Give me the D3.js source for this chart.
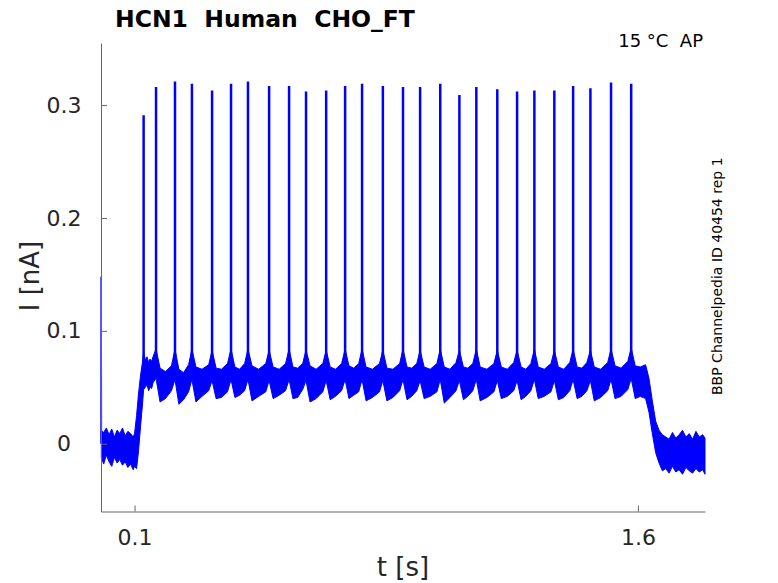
<!DOCTYPE html>
<html>
<head>
<meta charset="utf-8">
<script src="https://cdn.jsdelivr.net/npm/d3@7"></script>
<style>
    body { margin: 0; background: #fff; }
    svg { display: block; font-family: "DejaVu Sans", sans-serif; }
    text { white-space: pre; }
</style>
</head>
<body>
<svg width="778" height="583"></svg>
<script>
// spike train (time in s, peak current in nA)
var spikeTimes = [0.127, 0.164, 0.2205, 0.271, 0.331, 0.3875, 0.438, 0.501, 0.5605, 0.611,
    0.671, 0.7275, 0.778, 0.840, 0.900, 0.951, 1.011, 1.068, 1.1185, 1.181,
    1.240, 1.2915, 1.351, 1.407, 1.4585, 1.520, 1.580];
var spikePeaks = [0.291, 0.316, 0.321, 0.319, 0.313, 0.319, 0.321, 0.317, 0.317, 0.312,
    0.313, 0.317, 0.319, 0.317, 0.316, 0.316, 0.319, 0.309, 0.316, 0.314,
    0.312, 0.313, 0.313, 0.317, 0.315, 0.320, 0.319];

// noise band before the step
var preT = [0.001, 0.008, 0.016, 0.024, 0.032, 0.040, 0.048, 0.056, 0.064, 0.072, 0.080, 0.088, 0.096];
var preHi = [0.012, 0.010, 0.014, 0.008, 0.013, 0.006, 0.012, 0.009, 0.014, 0.007, 0.011, 0.009, 0.006];
var preLo = [-0.012, -0.018, -0.010, -0.016, -0.020, -0.012, -0.017, -0.014, -0.019, -0.016, -0.021, -0.018, -0.023];

// noise band during the step
var trainT = [0.100, 0.106, 0.112, 0.118, 0.124, 0.127, 0.132, 0.137, 0.142, 0.146, 0.151, 0.155,
    0.164, 0.176, 0.192, 0.210, 0.2205, 0.232, 0.246, 0.261, 0.271, 0.283, 0.301, 0.321,
    0.331, 0.343, 0.359, 0.377, 0.3875, 0.399, 0.413, 0.428, 0.438, 0.450, 0.470, 0.491,
    0.501, 0.513, 0.531, 0.550, 0.5605, 0.572, 0.586, 0.601, 0.611, 0.623, 0.641, 0.661,
    0.671, 0.683, 0.699, 0.717, 0.7275, 0.739, 0.753, 0.768, 0.778, 0.790, 0.809, 0.830,
    0.840, 0.852, 0.870, 0.890, 0.900, 0.912, 0.926, 0.941, 0.951, 0.963, 0.981, 1.001,
    1.011, 1.023, 1.040, 1.058, 1.068, 1.080, 1.093, 1.108, 1.1185, 1.130, 1.150, 1.171,
    1.181, 1.193, 1.211, 1.230, 1.240, 1.252, 1.266, 1.281, 1.2915, 1.303, 1.321, 1.341,
    1.351, 1.363, 1.379, 1.397, 1.407, 1.419, 1.433, 1.448, 1.4585, 1.470, 1.489, 1.510,
    1.520, 1.532, 1.550, 1.570, 1.580, 1.592, 1.607, 1.623, 1.633, 1.643, 1.653, 1.663, 1.673];
var trainHi = [0.009, 0.025, 0.045, 0.061, 0.073, 0.082, 0.074, 0.077, 0.072, 0.075, 0.073, 0.077,
    0.084, 0.067, 0.064, 0.069, 0.084, 0.066, 0.063, 0.070, 0.084, 0.068, 0.066, 0.070,
    0.083, 0.067, 0.066, 0.071, 0.084, 0.068, 0.066, 0.071, 0.084, 0.069, 0.066, 0.071,
    0.083, 0.068, 0.066, 0.071, 0.084, 0.068, 0.067, 0.071, 0.083, 0.069, 0.066, 0.071,
    0.083, 0.068, 0.066, 0.071, 0.084, 0.069, 0.067, 0.071, 0.084, 0.068, 0.066, 0.071,
    0.083, 0.067, 0.066, 0.071, 0.084, 0.068, 0.067, 0.071, 0.083, 0.068, 0.066, 0.071,
    0.084, 0.068, 0.066, 0.072, 0.083, 0.068, 0.067, 0.071, 0.084, 0.068, 0.066, 0.071,
    0.083, 0.068, 0.066, 0.072, 0.083, 0.068, 0.066, 0.071, 0.084, 0.068, 0.066, 0.071,
    0.083, 0.068, 0.066, 0.072, 0.084, 0.068, 0.067, 0.072, 0.083, 0.068, 0.066, 0.072,
    0.084, 0.069, 0.067, 0.073, 0.085, 0.069, 0.068, 0.070, 0.058, 0.038, 0.020, 0.012, 0.008];
var trainLo = [-0.020, -0.022, -0.006, 0.016, 0.036, 0.048, 0.050, 0.052, 0.047, 0.050, 0.049, 0.054,
    0.058, 0.037, 0.040, 0.047, 0.057, 0.035, 0.039, 0.046, 0.057, 0.037, 0.042, 0.047,
    0.056, 0.040, 0.041, 0.046, 0.057, 0.041, 0.043, 0.047, 0.057, 0.038, 0.042, 0.046,
    0.056, 0.040, 0.043, 0.047, 0.057, 0.040, 0.041, 0.048, 0.056, 0.037, 0.040, 0.046,
    0.056, 0.039, 0.042, 0.047, 0.057, 0.040, 0.043, 0.046, 0.057, 0.038, 0.041, 0.046,
    0.056, 0.038, 0.041, 0.047, 0.057, 0.039, 0.042, 0.047, 0.056, 0.040, 0.042, 0.046,
    0.057, 0.036, 0.041, 0.047, 0.056, 0.039, 0.042, 0.047, 0.057, 0.038, 0.041, 0.046,
    0.056, 0.040, 0.042, 0.047, 0.056, 0.039, 0.042, 0.047, 0.057, 0.040, 0.042, 0.046,
    0.056, 0.039, 0.041, 0.047, 0.057, 0.040, 0.042, 0.047, 0.056, 0.038, 0.041, 0.047,
    0.057, 0.040, 0.042, 0.048, 0.058, 0.040, 0.042, 0.040, 0.028, 0.009, -0.008, -0.017, -0.024];

// noise band after the step
var postT = [1.683, 1.693, 1.703, 1.713, 1.723, 1.733, 1.743, 1.753, 1.763, 1.773, 1.783, 1.793, 1.800];
var postHi = [0.006, 0.004, 0.010, 0.005, 0.008, 0.012, 0.006, 0.009, 0.004, 0.011, 0.006, 0.008, 0.005];
var postLo = [-0.022, -0.026, -0.020, -0.025, -0.023, -0.027, -0.021, -0.024, -0.026, -0.022, -0.025, -0.023, -0.027];

// capacitive transient at the very start
var transT = [0, 0.0004, 0.0012];
var transI = [0.0, 0.148, 0.004];

var xTicks = [0.1, 1.6],
    yTicks = [0, 0.1, 0.2, 0.3];

var svg = d3.select('svg'),
    blue = '#0000ff',
    x = d3.scaleLinear().domain([0, 1.8]).range([101, 705]),
    y = d3.scaleLinear().domain([-0.06, 0.355]).range([511.5, 43]);

var band = join3(preT.concat(trainT, postT), preHi.concat(trainHi, postHi), preLo.concat(trainLo, postLo));

var area = d3.area()
    .x(function(d) { return x(d.t); })
    .y0(function(d) { return y(d.lo); })
    .y1(function(d) { return y(d.hi); });

svg.append('path')
    .datum(band)
    .attr('d', area)
    .attr('fill', blue)
    .attr('stroke', blue)
    .attr('stroke-width', 1);

var line = d3.line()
    .x(function(d) { return x(d[0]); })
    .y(function(d) { return y(d[1]); });

svg.append('path')
    .datum(d3.zip(transT, transI))
    .attr('d', line)
    .attr('fill', 'none')
    .attr('stroke', blue)
    .attr('stroke-width', 1.5);

svg.selectAll('.spike')
    .data(d3.zip(spikeTimes, spikePeaks))
    .enter().append('path')
    .attr('class', 'spike')
    .attr('d', function(d) { return line([[d[0], 0.06], [d[0], d[1]]]); })
    .attr('stroke', blue)
    .attr('stroke-width', 2.5);

// axes
var yAxis = d3.axisLeft(y)
    .tickValues(yTicks)
    .tickSizeInner(-6)
    .tickSizeOuter(0)
    .tickPadding(19)
    .tickFormat(function(d) { return d === 0 ? '0' : d.toFixed(1); });

var xAxis = d3.axisBottom(x)
    .tickValues(xTicks)
    .tickSizeInner(-6)
    .tickSizeOuter(0)
    .tickPadding(18)
    .tickFormat(function(d) { return d.toFixed(1); });

var gy = svg.append('g').attr('transform', 'translate(101,0)').call(yAxis);
var gx = svg.append('g').attr('transform', 'translate(0,511.5)').call(xAxis);

[gx, gy].forEach(function(g) {
    g.select('.domain').attr('stroke', '#666');
    g.selectAll('.tick line').attr('stroke', '#666');
    g.selectAll('.tick text')
        .attr('fill', '#262626')
        .style('font-size', '22px')
        .style('font-family', '"DejaVu Sans", sans-serif');
});
gy.selectAll('.tick text').attr('text-anchor', 'middle').attr('x', -37);

// labels
svg.append('text')
    .attr('x', 115).attr('y', 27)
    .style('font-size', '23.5px').style('font-weight', 'bold')
    .text('HCN1  Human  CHO_FT');

svg.append('text')
    .attr('x', 703).attr('y', 47)
    .attr('text-anchor', 'end')
    .style('font-size', '18px')
    .text('15 °C  AP');

svg.append('text')
    .attr('x', 403).attr('y', 576)
    .attr('text-anchor', 'middle')
    .attr('fill', '#262626')
    .style('font-size', '26px')
    .text('t [s]');

svg.append('text')
    .attr('transform', 'translate(39,276) rotate(-90)')
    .attr('text-anchor', 'middle')
    .attr('fill', '#262626')
    .style('font-size', '26px')
    .text('I [nA]');

svg.append('text')
    .attr('transform', 'translate(722,395) rotate(-90)')
    .style('font-size', '14px')
    .text('BBP Channelpedia ID 40454 rep 1');

function join3(t, hi, lo) {
    var out = [];
    for (var i = 0, l = t.length; i < l; i++) {
        out.push({ t: t[i], hi: hi[i], lo: lo[i] });
    }
    return out;
}
</script>
</body>
</html>
